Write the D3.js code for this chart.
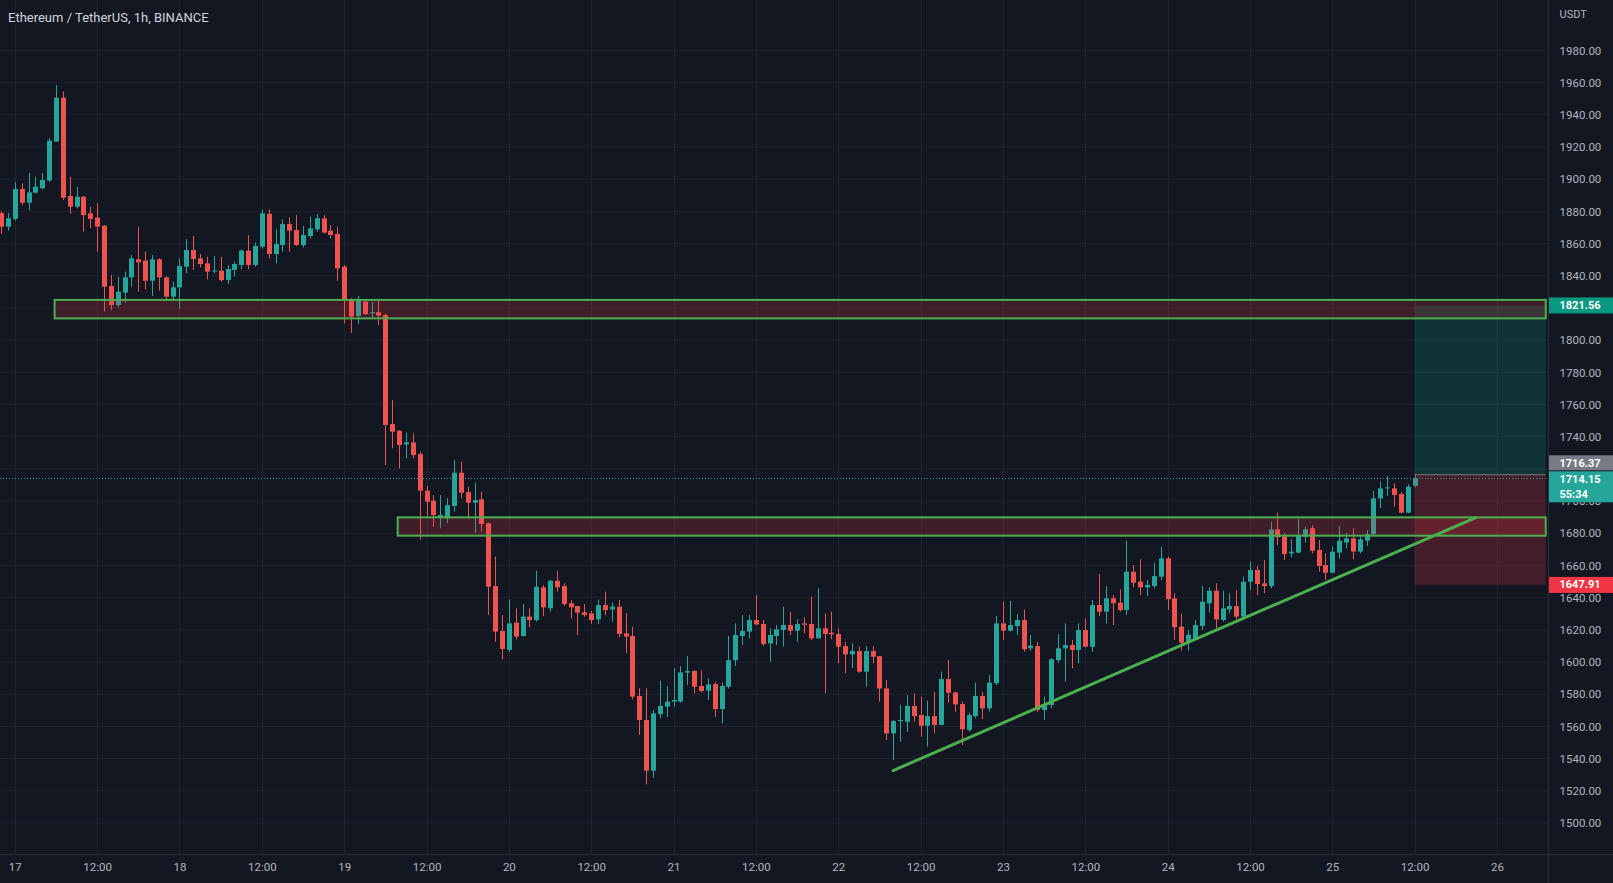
<!DOCTYPE html>
<html><head><meta charset="utf-8">
<script src="https://cdn.jsdelivr.net/npm/d3@7"></script>
<style>
html,body{margin:0;padding:0;background:#131722;overflow:hidden}
svg{display:block}
text{font-family:Roboto,"Noto Sans",sans-serif}
</style></head><body>
<svg id="chart" width="1613" height="883"></svg>
<script>
// ---------------- DATA ----------------
const title = "Ethereum / TetherUS, 1h, BINANCE";
const quoteCurrency = "USDT";
const firstCandleHour = -2; // hours relative to 17 Aug 2022 00:00 UTC
const open = [
1879,1870.5,1875.3,1893.9,1885.4,1891.6,1894.3,1899.1,1923.3,1950.6,
1889.5,1882.9,1889.1,1878.8,1876.1,1871.1,1833.6,1821.8,1829.5,1839.0,
1850.2,1849.4,1836.9,1850.2,1839.0,1827.0,1832.8,1845.6,1856.0,1850.8,
1847.7,1843.0,1843.1,1837.3,1843.6,1846.7,1855.6,1846.7,1858.1,1878.4,
1853.5,1859.1,1872.1,1868.4,1859.1,1864.7,1868.8,1875.7,1868.0,1865.9,
1845.6,1825.0,1815.0,1823.9,1816.6,1817.3,1815.6,1747.9,1743.7,1735.2,
1736.5,1729.2,1706.5,1700.2,1689.9,1689.3,1696.9,1717.6,1705.6,1699.0,
1701.1,1686.2,1647.2,1619.3,1607.5,1624.5,1616.2,1628.2,1626.1,1646.4,
1633.4,1650.5,1647.2,1636.5,1634.8,1630.9,1630.2,1626.5,1635.4,1632.7,
1634.4,1617.8,1616.2,1578.9,1564.0,1532.5,1567.7,1572.3,1575.4,1575.4,
1593.4,1594.4,1585.1,1582.2,1586.3,1570.8,1584.7,1601.2,1616.2,1618.9,
1626.1,1623.6,1611.6,1616.2,1619.9,1623.0,1619.5,1624.0,1623.6,1614.7,
1620.9,1618.2,1617.4,1609.9,1604.8,1606.8,1594.0,1606.8,1603.7,1583.6,
1555.7,1563.4,1562.9,1572.7,1567.1,1560.4,1566.4,1560.9,1589.4,1581.1,
1573.9,1557.8,1566.4,1578.9,1571.2,1586.8,1624.0,1619.5,1622.4,1626.1,
1608.5,1609.9,1570.2,1573.3,1601.2,1608.5,1610.6,1607.5,1619.9,1609.5,
1635.4,1631.3,1639.6,1636.9,1632.3,1656.1,1649.9,1646.4,1647.2,1653.0,
1664.4,1639.6,1622.0,1612.0,1613.7,1622.4,1636.5,1644.3,1626.1,1632.7,
1634.8,1628.2,1649.9,1657.2,1648.9,1647.2,1682.4,1677.9,1667.5,1668.0,
1677.9,1683.1,1669.6,1660.3,1655.5,1668.0,1674.2,1676.8,1668.6,1675.4,
1679.5,1701.7,1707.9,1707.9,1704.4,1692.8,1709.5];
const high = [
1880,1879,1898.4,1897.4,1904,1901.5,1904,1925.4,1958.5,1954.4,
1901.5,1895.3,1889.5,1882.9,1885,1871.5,1840.5,1839.4,1842.5,1852.9,
1870.5,1855,1852.9,1850.8,1839.4,1836.3,1850.8,1862.6,1864.7,1853.5,
1851.8,1852.3,1851.8,1846.7,1848.7,1856.4,1865.3,1860.5,1881.2,1881.2,
1868.8,1875.0,1876.3,1877.7,1870.9,1876.7,1878.4,1877.7,1871.5,1870.5,
1846.7,1826.0,1827.4,1825.0,1823.9,1824.5,1816.6,1762.8,1744.1,1742.5,
1742.1,1730.7,1709.4,1703.7,1703.7,1701.7,1725.5,1724.5,1709.0,1711.4,
1705.8,1686.6,1665.5,1629.2,1638.9,1633.4,1636.0,1633.4,1656.8,1647.9,
1651.0,1656.8,1648.9,1638.5,1634.8,1636.0,1631.9,1638.9,1643.7,1636.9,
1638.5,1630.2,1622.0,1583.7,1583.7,1570.2,1588.4,1585.1,1596.1,1597.5,
1603.7,1595.0,1595.0,1589.9,1587.8,1587.2,1616.2,1624.0,1629.2,1629.2,
1641.6,1626.1,1620.9,1623.0,1634.4,1631.3,1626.5,1627.8,1640.6,1645.8,
1630.2,1631.3,1620.9,1612.6,1611.6,1609.5,1609.9,1609.9,1603.7,1588.8,
1564.0,1573.3,1579.5,1580.5,1578.5,1576.0,1581.6,1594.0,1601.2,1581.6,
1575.4,1568.5,1587.2,1581.6,1591.9,1628.6,1637.5,1638.1,1629.8,1632.7,
1616.8,1612.6,1578.5,1602.3,1617.4,1624.0,1613.7,1624.0,1627.1,1638.5,
1654.7,1647.2,1641.6,1645.2,1675.4,1660.3,1663.8,1651.0,1661.7,1671.7,
1665.5,1642.7,1630,1620,1626.1,1647.2,1646.4,1648.9,1644.3,1642.7,
1644.7,1653.0,1662.3,1659.7,1663.4,1687.2,1692.8,1680.0,1676.2,1688.7,
1684.1,1685.1,1675.8,1667.5,1671.7,1684.5,1680.0,1683.1,1677.9,1682.0,
1706.4,1712.1,1715.6,1711.0,1705.8,1710.5,1716.4];
const low = [
1866,1868,1874.2,1884,1880.8,1891.2,1893.7,1898.4,1923.3,1887.1,
1878.4,1881.9,1867.4,1869.5,1854.9,1817.7,1818.7,1820.4,1823.3,1833.2,
1830.1,1831.5,1827.4,1830.7,1824.9,1824.5,1819.7,1841.5,1843.6,1845.2,
1837.8,1841.5,1836.3,1834.9,1839.4,1844.0,1844.0,1845.6,1857.0,1850.8,
1847.7,1854.9,1854.9,1858.5,1857.6,1863.2,1867.4,1866.3,1863.2,1836.9,
1810.4,1804.6,1810.0,1815.6,1814.2,1809.4,1722.4,1732.8,1720.3,1726.6,
1726.6,1676,1690,1684.1,1683.1,1686.2,1693.4,1701.7,1689.3,1680.4,
1681.0,1629.2,1612.6,1601.7,1606.4,1614.1,1615.8,1621.6,1625.1,1628.6,
1631.3,1643.7,1634.8,1627.1,1616.8,1628.2,1623.6,1623.6,1629.2,1625.1,
1615.3,1605.4,1576.8,1554.7,1524,1528,1565.0,1566.0,1572.3,1574.7,
1585.7,1580.5,1581.0,1576.4,1566.0,1561.9,1583.6,1597.5,1610.6,1614.7,
1623.0,1609.9,1600.2,1610.6,1609.5,1616.8,1612.6,1617.8,1613.7,1614.7,
1580.5,1614.1,1599.2,1593.0,1596.1,1593.4,1584.7,1599.2,1575.4,1551.5,
1539.1,1550.5,1556.7,1562.9,1553.6,1547.4,1555.7,1560.9,1574.7,1569.1,
1548.4,1556.7,1565.0,1564.4,1569.1,1585.7,1613.7,1619.0,1616.8,1606.4,
1607.0,1569.1,1564.0,1571.2,1599.6,1587.8,1596.1,1599.2,1609.1,1606.4,
1628.6,1624.0,1623.0,1631.3,1629.2,1646.4,1641.6,1641.0,1645.8,1650.9,
1632.3,1613.7,1607,1607,1613.7,1619.9,1630.7,1620.9,1625.1,1630.2,
1626.5,1628.2,1644.7,1641.6,1642.7,1645.8,1672.7,1663.4,1665.0,1667.5,
1674.2,1667.5,1656.1,1651.0,1655.1,1664.4,1670.6,1663.8,1667.5,1672.1,
1678.9,1695.5,1703.1,1696.5,1692.4,1692.4,1708.5];
const close = [
1870.5,1875.7,1893.9,1885.4,1891.8,1895.3,1899.5,1923.9,1950.6,1888.5,
1882.9,1889.1,1877.7,1875.3,1870.5,1833.2,1821.8,1830.1,1839.0,1850.8,
1848.3,1836.9,1850.2,1839.0,1827.0,1832.8,1846.0,1856.0,1850.4,1847.3,
1842.5,1843.3,1837.3,1844.2,1847.3,1855.6,1846.7,1858.5,1878.8,1853.5,
1859.7,1872.1,1868.0,1859.1,1865.3,1869.4,1875.7,1866.8,1865.3,1844.6,
1825.0,1814.6,1825.0,1816.2,1817.3,1815.2,1747.3,1743.1,1734.8,1736.5,
1728.6,1706.5,1699.6,1691.3,1691.3,1697.5,1717.6,1705.2,1699.0,1700.6,
1685.8,1646.8,1618.9,1608.1,1624.0,1615.8,1628.2,1626.1,1646.8,1634.0,
1650.5,1646.4,1636.0,1634.0,1630.7,1629.2,1626.1,1635.4,1632.3,1634.4,
1617.4,1615.8,1578.5,1564.0,1532.5,1568.1,1572.7,1575.4,1576.4,1593.6,
1594.4,1584.7,1582.0,1586.1,1570.8,1585.1,1601.2,1616.8,1619.3,1626.1,
1623.4,1611.2,1616.8,1620.3,1623.0,1619.5,1623.6,1623.2,1614.7,1620.9,
1617.4,1617.2,1609.5,1604.8,1606.8,1594.0,1606.8,1603.3,1583.6,1555.7,
1563.4,1564.0,1572.7,1566.4,1560.4,1566.4,1560.9,1589.4,1580.9,1573.7,
1558.2,1567.1,1578.9,1571.2,1587.2,1624.0,1619.5,1623.0,1626.1,1607.9,
1610.2,1570.2,1573.3,1601.7,1608.5,1610.6,1607.5,1619.9,1609.5,1635.4,
1631.3,1639.6,1636.5,1632.3,1656.1,1649.3,1646.4,1647.9,1653.4,1664.4,
1639.0,1621.6,1612.0,1617,1623.0,1637.5,1644.3,1626.5,1633.4,1634.8,
1628.2,1649.9,1657.2,1648.5,1647.2,1682.4,1677.5,1667.1,1668.6,1678.3,
1682.4,1669.2,1659.7,1655.5,1668.6,1675.4,1676.8,1668.6,1676.2,1679.5,
1701.7,1707.9,1708.5,1703.8,1692.8,1709.0,1714.15];
const priceTicks = d3.range(1500, 1981, 20);
// drawn zones: start hour, end hour, low price, high price
const zoneStart = [5.8, 55.8];
const zoneEnd = [223.1, 223.1];
const zoneLow = [1813.5, 1678.5];
const zoneHigh = [1825.0, 1689.9];
// trend line endpoints
const trendHours = [128, 212.9];
const trendPrices = [1532.6, 1689.8];
// long position
const posStartHour = 204, posEndHour = 223.1;
const entryPrice = 1716.37, targetPrice = 1821.56, stopPrice = 1647.91;
const lastPrice = 1714.15, countdown = "55:34";

// ---------------- LAYOUT ----------------
const W = 1613, H = 883, plotR = 1548, plotB = 854;
const base = Date.UTC(2022, 7, 17, 0);
const hr = h => new Date(base + h * 3600e3);
const x = d3.scaleUtc().domain([hr(-2.157), hr(223.43)]).range([0, plotR]);
const y = d3.scaleLinear().domain([1500, 1980]).range([823, 50.4]);

const svg = d3.select("#chart");
svg.append("rect").attr("width", W).attr("height", H).attr("fill", "#131722");

const timeTicks = d3.utcHour.every(12).range(hr(-2.157), hr(223.43));
const fmtTime = d => d.getUTCHours() === 0 ? String(d.getUTCDate()) : "12:00";

// grid
const grid = svg.append("g");
grid.selectAll("line.h").data(priceTicks).join("line")
  .attr("x1", 0).attr("x2", plotR).attr("y1", d => y(d)).attr("y2", d => y(d))
  .attr("stroke", "#1f232e").attr("stroke-width", 1);
grid.selectAll("line.v").data(timeTicks).join("line")
  .attr("x1", d => Math.round(x(d)) + 0.5).attr("x2", d => Math.round(x(d)) + 0.5)
  .attr("y1", 0).attr("y2", plotB)
  .attr("stroke", "#1f232e").attr("stroke-width", 1);

const defs = svg.append("defs");
defs.append("clipPath").attr("id", "plot").append("rect")
  .attr("width", plotR).attr("height", plotB);
const plot = svg.append("g").attr("clip-path", "url(#plot)");

// candles
const candles = open.map((o, i) => ({t: hr(firstCandleHour + i), o, h: high[i], l: low[i], c: close[i]}));
const up = "#26a69a", dn = "#ef5350", bw = 5;
const cg = plot.append("g");
cg.selectAll("line").data(candles).join("line")
  .attr("x1", d => Math.round(x(d.t)) + 0.5).attr("x2", d => Math.round(x(d.t)) + 0.5)
  .attr("y1", d => y(d.h)).attr("y2", d => y(d.l))
  .attr("stroke", d => d.c >= d.o ? up : dn).attr("stroke-width", 1);
cg.selectAll("rect").data(candles).join("rect")
  .attr("x", d => Math.round(x(d.t)) + 0.5 - bw / 2)
  .attr("width", bw)
  .attr("y", d => y(Math.max(d.o, d.c)))
  .attr("height", d => Math.max(1, Math.abs(y(d.o) - y(d.c))))
  .attr("fill", d => d.c >= d.o ? up : dn);

// long position zones
plot.append("rect")
  .attr("x", x(hr(posStartHour))).attr("width", x(hr(posEndHour)) - x(hr(posStartHour)))
  .attr("y", y(targetPrice)).attr("height", y(entryPrice) - y(targetPrice))
  .attr("fill", "rgba(8,153,129,0.22)");
plot.append("rect")
  .attr("x", x(hr(posStartHour))).attr("width", x(hr(posEndHour)) - x(hr(posStartHour)))
  .attr("y", y(entryPrice)).attr("height", y(stopPrice) - y(entryPrice))
  .attr("fill", "rgba(242,54,69,0.22)");
plot.append("line")
  .attr("x1", x(hr(posStartHour))).attr("x2", x(hr(posEndHour)))
  .attr("y1", y(entryPrice)).attr("y2", y(entryPrice))
  .attr("stroke", "#787b86").attr("stroke-width", 1);

// zones
zoneStart.forEach((s, i) => {
  plot.append("rect")
    .attr("x", x(hr(s))).attr("width", x(hr(zoneEnd[i])) - x(hr(s)))
    .attr("y", y(zoneHigh[i])).attr("height", y(zoneLow[i]) - y(zoneHigh[i]))
    .attr("fill", "rgba(242,54,69,0.2)")
    .attr("stroke", "#4caf50").attr("stroke-width", 2);
});

// trend line
plot.append("line")
  .attr("x1", x(hr(trendHours[0]))).attr("y1", y(trendPrices[0]))
  .attr("x2", x(hr(trendHours[1]))).attr("y2", y(trendPrices[1]))
  .attr("stroke", "#4caf50").attr("stroke-width", 3).attr("stroke-linecap", "round");

// last price dotted line
plot.append("line")
  .attr("x1", 0).attr("x2", plotR).attr("y1", Math.round(y(lastPrice)) + 0.5).attr("y2", Math.round(y(lastPrice)) + 0.5)
  .attr("stroke", up).attr("stroke-width", 1).attr("stroke-dasharray", "1,2");

// axes frame
svg.append("line").attr("x1", plotR + 0.5).attr("x2", plotR + 0.5).attr("y1", 0).attr("y2", H)
  .attr("stroke", "#2a2e39");
svg.append("line").attr("x1", 0).attr("x2", W).attr("y1", plotB + 0.5).attr("y2", plotB + 0.5)
  .attr("stroke", "#2a2e39");

// label boxes on the price axis
const boxes = [
  {top: y(targetPrice) - 8, h: 16, bg: "#089981", lines: [d3.format(".2f")(targetPrice)]},
  {top: y(lastPrice) - 7 - 16, h: 15, bg: "#787b86", lines: [d3.format(".2f")(entryPrice)]},
  {top: y(lastPrice) - 7, h: 31, bg: "#26a69a", lines: [d3.format(".2f")(lastPrice), countdown]},
  {top: y(stopPrice) - 8, h: 16, bg: "#f23645", lines: [d3.format(".2f")(stopPrice)]}
];
// clip for price tick labels: the axis strip minus the boxes (absolute coords)
const axClip = defs.append("clipPath").attr("id", "axclip");
let segTop = 0;
boxes.slice().sort((a, b) => a.top - b.top).forEach(b => {
  axClip.append("rect").attr("x", plotR).attr("width", W - plotR).attr("y", segTop).attr("height", Math.max(0, b.top - segTop));
  segTop = b.top + b.h;
});
axClip.append("rect").attr("x", plotR).attr("width", W - plotR).attr("y", segTop).attr("height", plotB - segTop);

// a tick label is dropped when almost all of it lies under the label boxes
const visibleFrac = v => {
  const a = y(v) - 6, b = y(v) + 6;
  let hidden = 0;
  boxes.forEach(bx => { hidden += Math.max(0, Math.min(b, bx.top + bx.h + 1) - Math.max(a, bx.top - 1)); });
  return 1 - Math.min(1, hidden / (b - a));
};
const yAxis = svg.append("g").attr("clip-path", "url(#axclip)")
  .append("g").attr("transform", `translate(${plotR},0)`)
  .call(d3.axisRight(y).tickValues(priceTicks.filter(v => visibleFrac(v) > 0.25))
    .tickFormat(d3.format(".2f")).tickSize(0).tickPadding(11.5));
yAxis.select(".domain").remove();
yAxis.selectAll("text").attr("fill", "#b2b5be").style("font-size", "11.5px");

// time axis
const xAxis = svg.append("g").attr("transform", `translate(0,${plotB})`)
  .call(d3.axisBottom(x).tickValues(timeTicks).tickFormat(fmtTime).tickSize(0).tickPadding(9));
xAxis.select(".domain").remove();
xAxis.selectAll("text").attr("fill", "#b2b5be").style("font-size", "11.5px");

// draw label boxes
boxes.forEach(b => {
  const g = svg.append("g");
  g.append("rect").attr("x", plotR + 1).attr("width", W - plotR - 1)
    .attr("y", b.top).attr("height", b.h).attr("fill", b.bg);
  b.lines.forEach((t, i) => {
    g.append("text").attr("x", plotR + 11.5).attr("y", b.top + 7.5 + i * 15).attr("dy", "0.35em")
      .attr("fill", "#ffffff").style("font-size", "11px").style("font-weight", "bold").text(t);
  });
});

// title & currency
svg.append("text").attr("x", 8).attr("y", 17).attr("dy", "0.35em")
  .attr("fill", "#d1d4dc").style("font-size", "13px").text(title);
svg.append("text").attr("x", plotR + 11.5).attr("y", 14).attr("dy", "0.35em")
  .attr("fill", "#b2b5be").style("font-size", "11px").text(quoteCurrency);
</script>
</body></html>
